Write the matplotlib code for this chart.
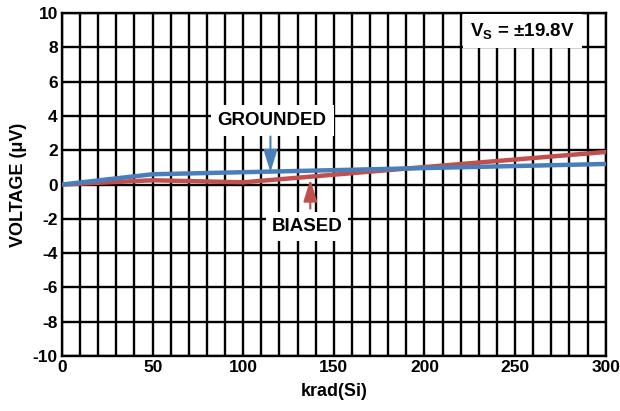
import numpy as np
import matplotlib
matplotlib.use("Agg")
import matplotlib.pyplot as plt
from matplotlib.ticker import MultipleLocator

# data
krad = [0, 50, 100, 200, 300]
grounded = [0.0, 0.6, 0.72, 0.96, 1.2]
biased = [0.0, 0.25, 0.13, 1.02, 1.9]

x_ticks = [0, 50, 100, 150, 200, 250, 300]
y_ticks = [-10, -8, -6, -4, -2, 0, 2, 4, 6, 8, 10]

plt.rcParams['font.family'] = ['Liberation Sans', 'DejaVu Sans']
plt.rcParams['font.weight'] = 'bold'
plt.rcParams['axes.unicode_minus'] = False
plt.rcParams['mathtext.fontset'] = 'custom'
plt.rcParams['mathtext.rm'] = 'Liberation Sans:bold'
plt.rcParams['mathtext.bf'] = 'Liberation Sans:bold'
plt.rcParams['mathtext.default'] = 'bf'

blue = '#4a7ebb'
red = '#c0504d'
fs = 12.5
fs_note = 13.5

fig = plt.figure(figsize=(6.2, 4.11), dpi=100)
ax = fig.add_axes([0.1, 0.134, 0.877, 0.834])

ax.plot(krad, biased, color=red, lw=3.2, zorder=3)
ax.plot(krad, grounded, color=blue, lw=3.2, zorder=4)

ax.set_xlim(0, 300)
ax.set_ylim(-10, 10)
ax.set_xticks(x_ticks)
ax.set_yticks(y_ticks)
ax.xaxis.set_minor_locator(MultipleLocator(10))
ax.tick_params(which='both', length=0, labelsize=fs, pad=3)
for lab in ax.get_xticklabels() + ax.get_yticklabels():
    lab.set_fontweight('bold')

ax.set_axisbelow(True)
ax.grid(True, which='both', axis='x', color='black', lw=1.7)
ax.grid(True, which='major', axis='y', color='black', lw=1.7)
for s in ax.spines.values():
    s.set_linewidth(1.7)

ax.set_xlabel('krad(Si)', fontsize=13, fontweight='bold', labelpad=6)
ax.set_ylabel('VOLTAGE (μV)', fontsize=13, fontweight='bold', labelpad=4)

arrow_style = '-|>,head_length=0.9,head_width=0.28'

ax.text(116, 3.75, 'GROUNDED', ha='center', va='center', fontsize=fs_note,
        fontweight='bold', bbox=dict(facecolor='white', edgecolor='none', pad=5), zorder=5)
ax.annotate('', xy=(115, 0.72), xytext=(115, 2.8),
            arrowprops=dict(arrowstyle=arrow_style, color=blue, lw=1.5, mutation_scale=15,
                            shrinkA=0, shrinkB=0), zorder=6)

ax.text(135, -2.45, 'BIASED', ha='center', va='center', fontsize=fs_note,
        fontweight='bold', bbox=dict(facecolor='white', edgecolor='none', pad=4), zorder=5)
ax.annotate('', xy=(137, 0.3), xytext=(137, -1.4),
            arrowprops=dict(arrowstyle=arrow_style, color=red, lw=1.5, mutation_scale=15,
                            shrinkA=0, shrinkB=0), zorder=6)

ax.text(254, 8.95, r'V$_\mathbf{S}$ = ±19.8V', ha='center', va='center', fontsize=fs_note,
        fontweight='bold', bbox=dict(facecolor='white', edgecolor='none', pad=5), zorder=5)

fig.savefig('out.png', dpi=100)
